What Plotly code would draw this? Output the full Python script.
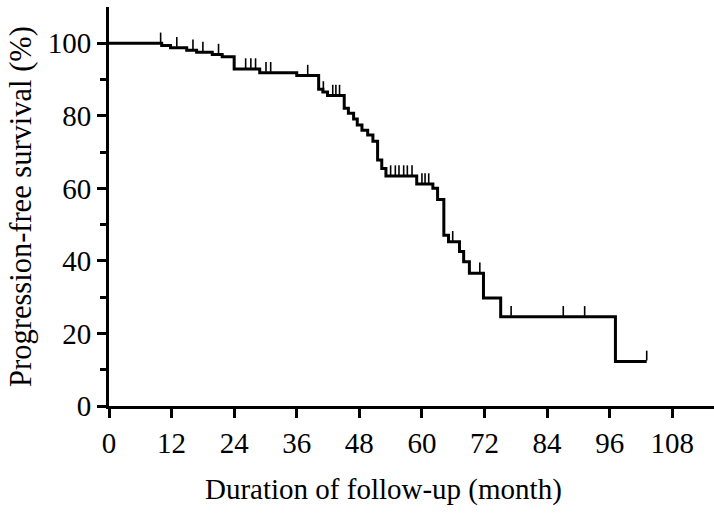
import plotly.graph_objects as go
import numpy as np

# Kaplan-Meier step data (month, survival %)
event_times = [0, 10.1, 11.8, 14.9, 16.8, 19.8, 21.7, 24.0, 28.9, 36.0, 40.2, 41.0, 41.9,
               45.1, 45.9, 46.9, 47.6, 48.5, 49.6, 50.6, 51.5, 52.3, 53.1, 59.0, 62.1,
               63.0, 64.2, 65.1, 67.2, 68.0, 69.1, 71.8, 75.1, 97.1, 103.1]
survival = [100, 99.4, 98.8, 98.1, 97.5, 96.9, 96.3, 92.9, 91.9, 91.1, 87.3, 86.6, 85.6,
            82.1, 80.7, 79.1, 77.5, 76.0, 74.7, 73.0, 67.8, 65.5, 63.4, 61.2, 60.0,
            56.9, 47.1, 45.3, 42.6, 39.8, 36.6, 29.8, 24.6, 12.3, 12.3]

# Censored observations (month)
censor_times = [9.9, 13.0, 16.1, 18.0, 21.0, 26.2, 27.2, 28.1, 30.1, 31.0, 38.1, 41.1,
                42.9, 43.5, 44.2, 54.0, 54.9, 55.6, 56.5, 57.2, 58.1, 60.0, 60.6, 61.3,
                65.9, 71.1, 77.1, 87.1, 91.2, 103.1]

x_ticks = [0, 12, 24, 36, 48, 60, 72, 84, 96, 108]
y_ticks = [0, 20, 40, 60, 80, 100]

x_title = "Duration of follow-up (month)"
y_title = "Progression-free survival (%)"


def surv_at(t):
    idx = np.searchsorted(event_times, t, side="right") - 1
    return survival[max(idx, 0)]


censor_surv = [surv_at(t) for t in censor_times]

fig = go.Figure()
fig.add_trace(go.Scatter(
    x=event_times, y=survival, mode="lines",
    line=dict(shape="hv", color="black", width=3),
    hoverinfo="skip", showlegend=False,
))
# censor ticks sit on top of the line, pointing upward
fig.add_trace(go.Scatter(
    x=censor_times, y=[v + 1.6 for v in censor_surv], mode="markers",
    marker=dict(symbol="line-ns", size=7, color="black",
                line=dict(color="black", width=1.6)),
    hoverinfo="skip", showlegend=False,
))

font_family = "Liberation Serif, Times New Roman, serif"
fig.update_layout(
    width=714, height=513,
    margin=dict(l=109, r=0, t=7, b=107),
    paper_bgcolor="white", plot_bgcolor="white",
    font=dict(family=font_family, size=29, color="black"),
    xaxis=dict(
        range=[0, 116], tickvals=x_ticks, ticktext=[str(v) for v in x_ticks],
        showline=True, linecolor="black", linewidth=3,
        ticks="outside", ticklen=9, tickwidth=3, tickcolor="black",
        showgrid=False, zeroline=False,
        tickfont=dict(size=29),
    ),
    yaxis=dict(
        range=[0, 110], tickvals=y_ticks, ticktext=[str(v) for v in y_ticks],
        showline=True, linecolor="black", linewidth=3,
        ticks="outside", ticklen=9, tickwidth=3, tickcolor="black",
        minor=dict(tickvals=[10, 30, 50, 70, 90], ticks="outside", ticklen=6,
                   tickwidth=3, tickcolor="black"),
        showgrid=False, zeroline=False,
        tickfont=dict(size=29),
        title=dict(text=y_title, font=dict(size=30.5), standoff=8),
    ),
    annotations=[dict(
        text=x_title, xref="paper", yref="paper", x=0.4545, y=-0.2105,
        xanchor="center", yanchor="middle", showarrow=False,
        font=dict(size=29, family=font_family, color="black"),
    )],
)

fig.write_html("out.html")
